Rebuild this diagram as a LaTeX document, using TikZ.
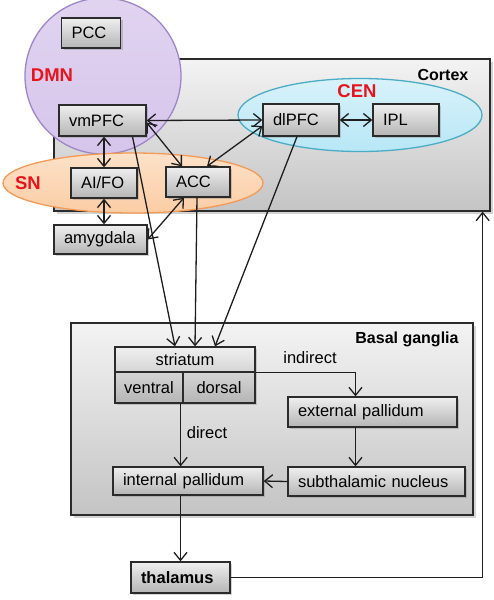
\documentclass[tikz,border=0pt]{standalone}
\usepackage{fontspec}
\setmainfont{Liberation Sans}
\usetikzlibrary{arrows.meta,shapes.geometric,shadows,calc}
\definecolor{boxline}{HTML}{2B2B2B}
\definecolor{linec}{HTML}{1E1E1E}
\definecolor{boxtop}{HTML}{EFEFEF}
\definecolor{boxbot}{HTML}{B5B5B5}
\definecolor{bigtop}{HTML}{F3F3F3}
\definecolor{bigbot}{HTML}{C4C4C4}
\definecolor{netred}{HTML}{E8141C}
\definecolor{dmnfill}{HTML}{D6C5EB}
\definecolor{dmnline}{HTML}{9C86C6}
\definecolor{snfill}{HTML}{FBCDA4}
\definecolor{snline}{HTML}{F49A55}
\definecolor{cenfill}{HTML}{B8E7F6}
\definecolor{cenline}{HTML}{4BACC6}
\begin{document}
\begin{tikzpicture}[x=1pt,y=-1pt,
  >={Straight Barb[length=8pt,width=13pt]},
  conn/.style={draw=linec, line width=1.3pt},
  box/.style={draw=boxline, line width=1.3pt, top color=boxtop, bottom color=boxbot,
    drop shadow={shadow xshift=2pt,shadow yshift=-2pt,opacity=0.35},
    inner xsep=10pt, inner ysep=0pt, minimum height=30pt, align=left,
    font=\fontsize{16.5}{19}\selectfont},
  bigbox/.style={draw=boxline, line width=1.3pt, top color=bigtop, bottom color=bigbot,
    drop shadow={shadow xshift=2.5pt,shadow yshift=-2.5pt,opacity=0.35}, inner sep=0pt},
  part/.style={draw=boxline, line width=1.3pt, inner sep=0pt, font=\fontsize{16.5}{19}\selectfont},
  region/.style={font=\bfseries\fontsize{16}{19}\selectfont},
  netlbl/.style={font=\bfseries\fontsize{18.5}{22}\selectfont, text=netred},
  plain/.style={font=\fontsize{16.5}{19}\selectfont}]
\useasboundingbox (0,0) rectangle (494,600);

% large region boxes
\node[bigbox, minimum width=436pt, minimum height=152pt] (cortex) at (272,135) {};
\node[bigbox, minimum width=402pt, minimum height=192pt] (basal) at (272,419) {};
\node[region] (cortexlbl) at (443,75) {Cortex};
\node[region] (basallbl) at (407,339) {Basal ganglia};

% networks
\node[circle, draw=dmnline, line width=1.3pt, top color=dmnfill!75!white, bottom color=dmnfill, minimum size=156pt, inner sep=0pt] (dmn) at (103,76) {};
\node[ellipse, draw=snline, line width=1.3pt, top color=snfill!60!white, bottom color=snfill, minimum width=260pt, minimum height=60pt, inner sep=0pt] (sn) at (133,183) {};
\node[ellipse, draw=cenline, line width=1.3pt, top color=cenfill!55!white, bottom color=cenfill, minimum width=244pt, minimum height=73pt, inner sep=0pt] (cen) at (360,115) {};
\node[netlbl] (dmnlbl) at (52,75) {DMN};
\node[netlbl] (snlbl) at (28,183) {SN};
\node[netlbl] (cenlbl) at (357,91) {CEN};

% cortical nodes
\node[box, text width=39pt] (pcc) at (91,33) {PCC};
\node[box, text width=67pt, minimum height=31pt] (vmpfc) at (102.5,120.5) {vmPFC};
\node[box, text width=46pt] (aifo) at (104,183) {AI/FO};
\node[box, text width=44pt] (acc) at (198,182) {ACC};
\node[box, text width=73pt, minimum height=29pt] (amyg) at (100.5,239.5) {amygdala};
\node[box, text width=56pt, minimum height=32pt] (dlpfc) at (301,120) {dlPFC};
\node[box, text width=46pt, minimum height=32pt] (ipl) at (406,120) {IPL};

% basal ganglia nodes
\node[part, draw=none, top color=boxtop, bottom color=boxbot,
  drop shadow={shadow xshift=2pt,shadow yshift=-2pt,opacity=0.35},
  minimum width=140pt, minimum height=56pt] (sbox) at (185,375) {};
\node[part, minimum width=140pt, minimum height=25pt] (striatum) at (185,359.5) {striatum};
\node[part, minimum width=68pt, minimum height=31pt] (ventral) at (149,387.5) {ventral};
\node[part, minimum width=72pt, minimum height=31pt] (dorsal) at (219,387.5) {dorsal};
\node[box, text width=149pt] (extp) at (372.5,412) {external pallidum};
\node[box, text width=157pt, minimum height=29pt] (stn) at (376.5,481.5) {subthalamic nucleus};
\node[box, text width=130pt, minimum height=28pt] (intp) at (188,481) {internal pallidum};
\node[box, text width=79pt, minimum height=31pt, font=\bfseries\fontsize{16.5}{19}\selectfont] (thal) at (180.5,577.5) {thalamus};

\node[plain] (indlbl) at (310,358) {indirect};
\node[plain] (dirlbl) at (207,433) {direct};

% helper coordinates
\coordinate (dstart) at ($(ventral.south east)+(-3,0)$);
\coordinate (estart) at ($(extp.south)+(-17,0)$);
\coordinate (etop) at ($(extp.north)+(-17,0)$);
\coordinate (ctxin) at ($(cortex.south east)+(-8,0)$);

% cortical connections
\draw[conn,<->] (vmpfc.east) -- (dlpfc.west);
\draw[conn,<->] (dlpfc.east) -- (ipl.west);
\draw[conn,<->] ($(vmpfc.east)+(0,2)$) -- ($(acc.north)+(-16,0)$);
\draw[conn,<->] ($(dlpfc.west)+(0,6)$) -- ($(acc.north)+(9,0)$);
\draw[conn,<->] (aifo.north |- vmpfc.south) -- (aifo.north);
\draw[conn,<->] (aifo.south) -- (aifo.south |- amyg.north);
\draw[conn,<->] (amyg.east) -- ($(acc.south)+(-14,0)$);

% cortex to striatum
\draw[conn,->] ($(vmpfc.south)+(30,0)$) -- ($(sbox.north)+(-10,0)$);
\draw[conn,->] ($(acc.south)+(-1,0)$) -- ($(sbox.north)+(10,0)$);
\draw[conn,->] ($(dlpfc.south)+(-4,0)$) -- ($(sbox.north)+(30,0)$);

% basal ganglia pathways
\draw[conn,->] (striatum.south east) -| (etop);
\draw[conn,->] (dstart) -- (dstart |- intp.north);
\draw[conn,->] (estart) -- (estart |- stn.north);
\draw[conn,->] (stn.west) -- (intp.east);
\draw[conn,->] (thal.north |- intp.south) -- (thal.north);
\draw[conn,->] (thal.east) -| (ctxin);
\end{tikzpicture}
\end{document}
